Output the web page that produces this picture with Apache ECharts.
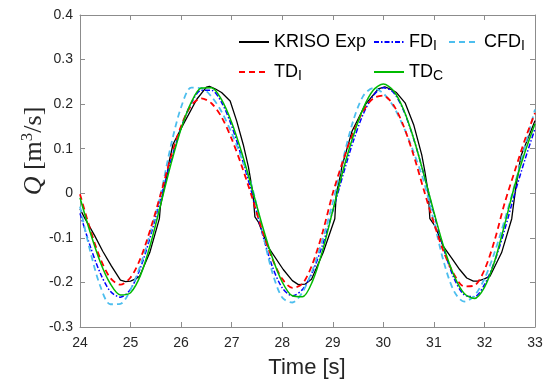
<!DOCTYPE html>
<html><head><meta charset="utf-8">
<script src="https://cdn.jsdelivr.net/npm/echarts@6/dist/echarts.min.js"></script>
<style>html,body{margin:0;padding:0;background:#fff}#c{width:549px;height:385px}</style>
</head><body><div id="c"></div>
<script>
// ---- data ----
const time = [24.0,24.2,24.4,24.6,24.8,25.0,25.2,25.4,25.6,25.8,26.0,26.2,26.4,26.6,26.8,27.0,27.2,27.4,27.6,27.8,28.0,28.2,28.4,28.6,28.8,29.0,29.2,29.4,29.6,29.8,30.0,30.2,30.4,30.6,30.8,31.0,31.2,31.4,31.6,31.8,32.0,32.2,32.4,32.6,32.8,33.0];
const fdI  = [-0.045,-0.118,-0.179,-0.220,-0.233,-0.215,-0.166,-0.094,-0.009,0.074,0.147,0.202,0.231,0.231,0.204,0.151,0.080,0.000,-0.088,-0.163,-0.212,-0.230,-0.216,-0.176,-0.115,-0.040,0.040,0.115,0.177,0.219,0.237,0.226,0.186,0.122,0.043,-0.045,-0.127,-0.191,-0.228,-0.232,-0.205,-0.153,-0.082,0.000,0.075,0.145];
const cfdI = [-0.030,-0.129,-0.208,-0.249,-0.248,-0.216,-0.160,-0.085,0.000,0.108,0.193,0.237,0.236,0.217,0.183,0.135,0.078,0.016,-0.082,-0.176,-0.234,-0.245,-0.222,-0.172,-0.103,-0.021,0.075,0.161,0.218,0.236,0.224,0.195,0.149,0.092,0.027,-0.063,-0.156,-0.220,-0.243,-0.230,-0.192,-0.133,-0.060,0.020,0.105,0.188];
const tdI  = [-0.002,-0.080,-0.146,-0.190,-0.205,-0.189,-0.145,-0.078,0.000,0.082,0.151,0.197,0.213,0.202,0.171,0.122,0.061,-0.008,-0.082,-0.146,-0.192,-0.212,-0.203,-0.158,-0.087,0.000,0.072,0.135,0.184,0.213,0.219,0.198,0.151,0.085,0.008,-0.067,-0.133,-0.182,-0.209,-0.207,-0.172,-0.106,-0.022,0.050,0.120,0.180];
const tdC  = [-0.010,-0.087,-0.154,-0.203,-0.228,-0.223,-0.183,-0.112,-0.023,0.066,0.145,0.204,0.236,0.237,0.210,0.159,0.091,0.012,-0.070,-0.143,-0.199,-0.230,-0.232,-0.197,-0.128,-0.039,0.050,0.127,0.190,0.231,0.245,0.230,0.188,0.123,0.043,-0.042,-0.122,-0.185,-0.225,-0.236,-0.211,-0.153,-0.070,0.018,0.092,0.156];
const expTime = [24.00,24.10,24.29,24.45,24.62,24.80,24.90,25.00,25.10,25.18,25.38,25.57,25.59,25.68,25.73,25.75,25.84,26.04,26.31,26.50,26.56,26.68,26.80,26.97,27.10,27.23,27.33,27.36,27.42,27.46,27.53,27.73,28.02,28.20,28.32,28.45,28.58,28.81,29.04,29.07,29.15,29.18,29.38,29.65,29.90,30.03,30.15,30.26,30.43,30.60,30.76,30.82,30.89,30.92,31.02,31.18,31.38,31.51,31.65,31.78,31.87,32.00,32.11,32.34,32.54,32.57,32.63,32.67,32.69,32.73,33.00];
const expQ    = [-0.035,-0.057,-0.095,-0.130,-0.163,-0.195,-0.198,-0.197,-0.192,-0.186,-0.133,-0.057,-0.030,0.020,0.045,0.065,0.110,0.154,0.211,0.238,0.240,0.234,0.226,0.207,0.162,0.109,0.060,0.040,0.000,-0.053,-0.065,-0.122,-0.171,-0.196,-0.205,-0.204,-0.193,-0.133,-0.057,0.000,0.040,0.060,0.139,0.200,0.234,0.239,0.233,0.226,0.203,0.154,0.086,0.050,0.000,-0.057,-0.073,-0.118,-0.150,-0.171,-0.190,-0.197,-0.197,-0.192,-0.186,-0.133,-0.057,-0.030,0.020,0.045,0.063,0.086,0.163];
const seriesNames = ['KRISO Exp','FD_I','CFD_I','TD_I','TD_C'];
const xTicks = [24,25,26,27,28,29,30,31,32,33];
const yTicks = [-0.3,-0.2,-0.1,0,0.1,0.2,0.3,0.4];
const xLabel = 'Time [s]';

// ---- chart ----
const chart = echarts.init(document.getElementById('c'), null, {renderer:'canvas'});
const SANS = '"Liberation Sans", Arial, Helvetica, sans-serif';
const SERIF = '"Liberation Serif", "DejaVu Serif", serif';
const axisCol = '#8c8c8c';
const pairs = (xs, ys) => xs.map((x, i) => [x, ys[i]]);

function axisCommon(showLabel) {
  return {
    type: 'value',
    axisLine: {show: true, onZero: false, lineStyle: {color: axisCol, width: 1}},
    axisTick: {show: true, inside: true, length: 5, lineStyle: {color: axisCol}},
    splitLine: {show: false},
    axisLabel: {show: showLabel, color: '#262626', fontFamily: SANS, fontSize: 14}
  };
}
const xMin = xTicks[0], xMax = xTicks[xTicks.length-1];
const yMin = yTicks[0], yMax = yTicks[yTicks.length-1];

const fmtName = name => {
  const p = name.split('_');
  return p.length > 1 ? '{n|' + p[0] + '}{s|' + p[1] + '}' : '{n|' + name + '}';
};
const legendText = {
  rich: {
    n: {fontFamily: SANS, fontSize: 18, color: '#000', lineHeight: 22},
    s: {fontFamily: SANS, fontSize: 14, color: '#000', padding: [9, 0, 0, 0]}
  }
};
const legPos = [[238, 33], [373, 33], [448, 33], [238, 63], [373, 63]];
const legends = seriesNames.map((nm, i) => ({
  data: [nm], left: legPos[i][0], top: legPos[i][1], orient: 'horizontal',
  itemWidth: 30, itemHeight: 14, padding: 0, selectedMode: false,
  itemStyle: {opacity: 0},
  formatter: fmtName, textStyle: legendText
}));

const mk = (name, data, color, width, type, smooth) => ({
  name, type: 'line', data, showSymbol: false, symbol: 'none', smooth,
  xAxisIndex: 0, yAxisIndex: 0, animation: false,
  lineStyle: {color, width, type}, itemStyle: {color}
});

chart.setOption({
  animation: false,
  backgroundColor: '#fff',
  grid: {left: 80, right: 14, top: 15, bottom: 58, containLabel: false},
  legend: legends,
  xAxis: [
    Object.assign(axisCommon(true), {min: xMin, max: xMax, interval: 1, position: 'bottom',
      axisLabel: {show: true, color: '#262626', fontFamily: SANS, fontSize: 14, margin: 9}}),
    Object.assign(axisCommon(false), {min: xMin, max: xMax, interval: 1, position: 'top'})
  ],
  yAxis: [
    Object.assign(axisCommon(true), {min: yMin, max: yMax, interval: 0.1, position: 'left',
      axisLabel: {show: true, color: '#262626', fontFamily: SANS, fontSize: 14, margin: 7,
        formatter: v => String(Math.round(v * 10) / 10)}}),
    Object.assign(axisCommon(false), {min: yMin, max: yMax, interval: 0.1, position: 'right'})
  ],
  series: [
    mk(seriesNames[0], pairs(expTime, expQ), '#000000', 1.3, 'solid', false),
    mk(seriesNames[1], pairs(time, fdI), '#0000ff', 1.5, [5, 2, 1.5, 2], 0.3),
    mk(seriesNames[2], pairs(time, cfdI), '#4dbeee', 1.8, [6, 4], 0.3),
    mk(seriesNames[3], pairs(time, tdI), '#ff0000', 1.8, [6, 4], 0.3),
    mk(seriesNames[4], pairs(time, tdC), '#00bb00', 1.5, 'solid', 0.3)
  ],
  graphic: [
    {type: 'text', x: 307, y: 368, silent: true,
      style: {text: xLabel, fill: '#262626', font: '22px ' + SANS, align: 'center', verticalAlign: 'middle',
        textAlign: 'center', textVerticalAlign: 'middle'}},
    {type: 'text', x: 34, y: 151, rotation: Math.PI / 2, silent: true,
      style: {text: '{q|Q}{r| [m}{p|3}{r|/s]}', fill: '#262626', align: 'center', verticalAlign: 'middle',
        textAlign: 'center', textVerticalAlign: 'middle',
        rich: {
          q: {fontFamily: SERIF, fontStyle: 'italic', fontSize: 26, fill: '#262626', color: '#262626'},
          r: {fontFamily: SERIF, fontSize: 26, fill: '#262626', color: '#262626'},
          p: {fontFamily: SERIF, fontSize: 17, fill: '#262626', color: '#262626', padding: [0, 0, 13, 0]}
        }}}
  ]
});
</script></body></html>
